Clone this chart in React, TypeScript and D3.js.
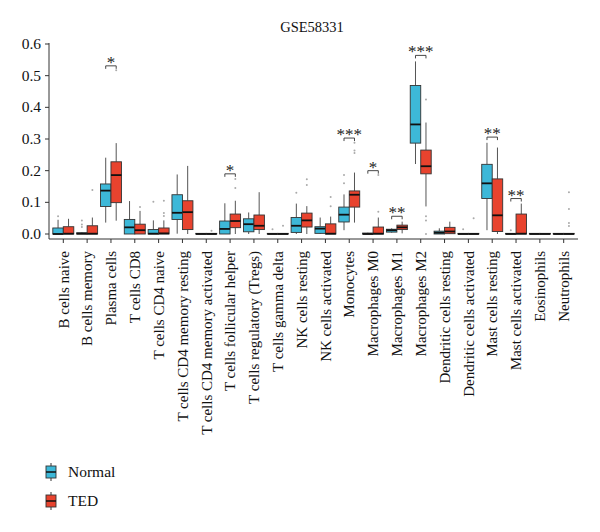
import React from "react";
import { scaleLinear, scalePoint } from "d3";

const categories = [
  "B cells naive", "B cells memory", "Plasma cells", "T cells CD8", "T cells CD4 naive",
  "T cells CD4 memory resting", "T cells CD4 memory activated", "T cells follicular helper",
  "T cells regulatory (Tregs)", "T cells gamma delta", "NK cells resting", "NK cells activated",
  "Monocytes", "Macrophages M0", "Macrophages M1", "Macrophages M2", "Dendritic cells resting",
  "Dendritic cells activated", "Mast cells resting", "Mast cells activated", "Eosinophils", "Neutrophils",
];

// [lower whisker, q1, median, q3, upper whisker]
const normalBox = [
  [0, 0, 0, 0.019, 0.045], [0, 0, 0.001, 0.004, 0.006], [0.036, 0.087, 0.137, 0.158, 0.241],
  [0, 0, 0.021, 0.046, 0.104], [0, 0, 0.001, 0.014, 0.043], [0.001, 0.046, 0.067, 0.124, 0.188],
  [0, 0, 0, 0.002, 0.002], [0, 0, 0.016, 0.041, 0.097], [0, 0.007, 0.031, 0.048, 0.068],
  [0, 0, 0, 0.002, 0.002], [0, 0.005, 0.026, 0.052, 0.096], [0, 0.002, 0.017, 0.023, 0.052],
  [0.012, 0.038, 0.061, 0.085, 0.125], [0, 0, 0, 0.003, 0.004], [0.004, 0.006, 0.012, 0.015, 0.018],
  [0.221, 0.287, 0.346, 0.469, 0.545], [0, 0, 0.004, 0.009, 0.018], [0, 0, 0, 0.002, 0.002],
  [0.012, 0.112, 0.16, 0.22, 0.288], [0, 0, 0, 0.002, 0.002], [0, 0, 0, 0.002, 0.002], [0, 0, 0, 0.002, 0.002],
];
const tedBox = [
  [0, 0, 0.001, 0.023, 0.048], [0, 0, 0.001, 0.026, 0.052], [0.042, 0.099, 0.186, 0.228, 0.287],
  [0, 0, 0.012, 0.031, 0.073], [0, 0, 0.002, 0.019, 0.043], [0, 0.014, 0.069, 0.105, 0.215],
  [0, 0, 0, 0.002, 0.002], [0, 0.02, 0.041, 0.063, 0.105], [0, 0.014, 0.026, 0.06, 0.132],
  [0, 0, 0, 0.002, 0.002], [0, 0.022, 0.043, 0.066, 0.088], [0, 0, 0.001, 0.032, 0.055],
  [0.036, 0.085, 0.124, 0.136, 0.194], [0, 0, 0.001, 0.022, 0.052], [0.002, 0.014, 0.021, 0.028, 0.039],
  [0.087, 0.19, 0.214, 0.265, 0.352], [0, 0.001, 0.008, 0.021, 0.039], [0, 0, 0, 0.002, 0.002],
  [0, 0.008, 0.059, 0.174, 0.273], [0, 0, 0.001, 0.063, 0.096], [0, 0, 0, 0.002, 0.002], [0, 0, 0, 0.002, 0.002],
];
const normalOut = [
  [0.056], [0.043, 0.03, 0.022], [], [], [0.102], [], [], [], [], [0.015], [0.13], [],
  [0.16, 0.186], [], [], [], [], [0.015], [], [0.012], [], [],
];
const tedOut = [
  [], [0.139], [0.517], [0.085], [0.057, 0.066, 0.105], [], [0.01], [0.145, 0.174], [], [0.026],
  [0.173, 0.155], [0.117, 0.088], [0.256, 0.264, 0.288], [0.07, 0.186], [], [0.425, 0.056, 0.043, 0],
  [], [0.05], [], [], [], [0.132, 0.079, 0.035, 0.025],
];
const signif = ["", "", "*", "", "", "", "", "*", "", "", "", "", "***", "*", "**", "***", "", "", "**", "**", "", ""];
const signifY = [0, 0, 0.531, 0, 0, 0, 0, 0.19, 0, 0, 0, 0, 0.303, 0.2, 0.056, 0.564, 0, 0, 0.306, 0.112, 0, 0];
const yTicks = [0, 0.1, 0.2, 0.3, 0.4, 0.5, 0.6];
const groups = ["Normal", "TED"];
const colors = ["#3DB8D8", "#E8432E"];

const W = 600, H = 532;
const left = 49, right = 578, top = 44, bottom = 234;
const font = "Liberation Serif, DejaVu Serif, serif";

function Box({ s, x0, w, fill, out, y }: any) {
  const [lo, q1, med, q3, hi] = s;
  const cx = x0 + w / 2;
  return (
    <g>
      <line x1={cx} x2={cx} y1={y(hi)} y2={y(q3)} stroke="#555" strokeWidth={1} />
      <line x1={cx} x2={cx} y1={y(q1)} y2={y(lo)} stroke="#555" strokeWidth={1} />
      <rect x={x0} y={y(q3)} width={w} height={Math.max(0.5, y(q1) - y(q3))} fill={fill} stroke="#333" strokeWidth={0.9} />
      <line x1={x0} x2={x0 + w} y1={y(med)} y2={y(med)} stroke="#111" strokeWidth={1.8} />
      {out.map((o: number, i: number) => (
        <circle key={i} cx={cx} cy={y(o)} r={1} fill="#aaa" />
      ))}
    </g>
  );
}

export default function App() {
  const x = scalePoint<string>().domain(categories).range([left, right]).padding(0.6);
  const y = scaleLinear().domain([0, 0.6]).range([bottom, top]);
  const bw = x.step() * 0.44;
  const axisY = bottom + 5;

  return (
    <svg width={W} height={H} style={{ position: "absolute", left: 0, top: 0, background: "#fff", fontFamily: font }}>
      <text x={312} y={32} fontSize={14.5} textAnchor="middle" fill="#111">GSE58331</text>

      {/* y axis */}
      <line x1={left} x2={left} y1={top - 1} y2={axisY} stroke="#333" strokeWidth={1} />
      {yTicks.map((t) => (
        <g key={t}>
          <line x1={left - 4} x2={left} y1={y(t)} y2={y(t)} stroke="#333" />
          <text x={left - 8} y={y(t)} dy="0.33em" fontSize={15.5} textAnchor="end" fill="#111">{t.toFixed(1)}</text>
        </g>
      ))}

      {/* x axis */}
      <line x1={left} x2={right} y1={axisY} y2={axisY} stroke="#333" strokeWidth={1} />
      {categories.map((c) => (
        <g key={c}>
          <line x1={x(c)} x2={x(c)} y1={axisY} y2={axisY + 4} stroke="#333" />
          <text transform={`translate(${x(c)},${axisY + 12}) rotate(-90)`} dy="0.35em" fontSize={15} textAnchor="end" fill="#111">{c}</text>
        </g>
      ))}

      {categories.map((c, i) => {
        const cx = x(c) as number;
        const by = y(signifY[i]);
        return (
          <g key={c}>
            <Box s={normalBox[i]} x0={cx - bw} w={bw} fill={colors[0]} out={normalOut[i]} y={y} />
            <Box s={tedBox[i]} x0={cx} w={bw} fill={colors[1]} out={tedOut[i]} y={y} />
            {signif[i] && (
              <g>
                <path d={`M${cx - bw / 2},${by + 3}V${by}H${cx + bw / 2}V${by + 3}`} fill="none" stroke="#333" strokeWidth={0.9} />
                <text x={cx} y={by + 2} fontSize={17} textAnchor="middle" fill="#222">{signif[i]}</text>
              </g>
            )}
          </g>
        );
      })}

      {/* legend */}
      {groups.map((g, i) => {
        const cy = 472 + i * 29;
        return (
          <g key={g}>
            <line x1={51} x2={51} y1={cy - 9} y2={cy + 9} stroke="#333" />
            <rect x={46} y={cy - 6} width={10} height={12} fill={colors[i]} stroke="#333" strokeWidth={0.9} />
            <line x1={46} x2={56} y1={cy} y2={cy} stroke="#111" strokeWidth={1.5} />
            <text x={68} y={cy} dy="0.35em" fontSize={15.5} fill="#111">{g}</text>
          </g>
        );
      })}
    </svg>
  );
}
